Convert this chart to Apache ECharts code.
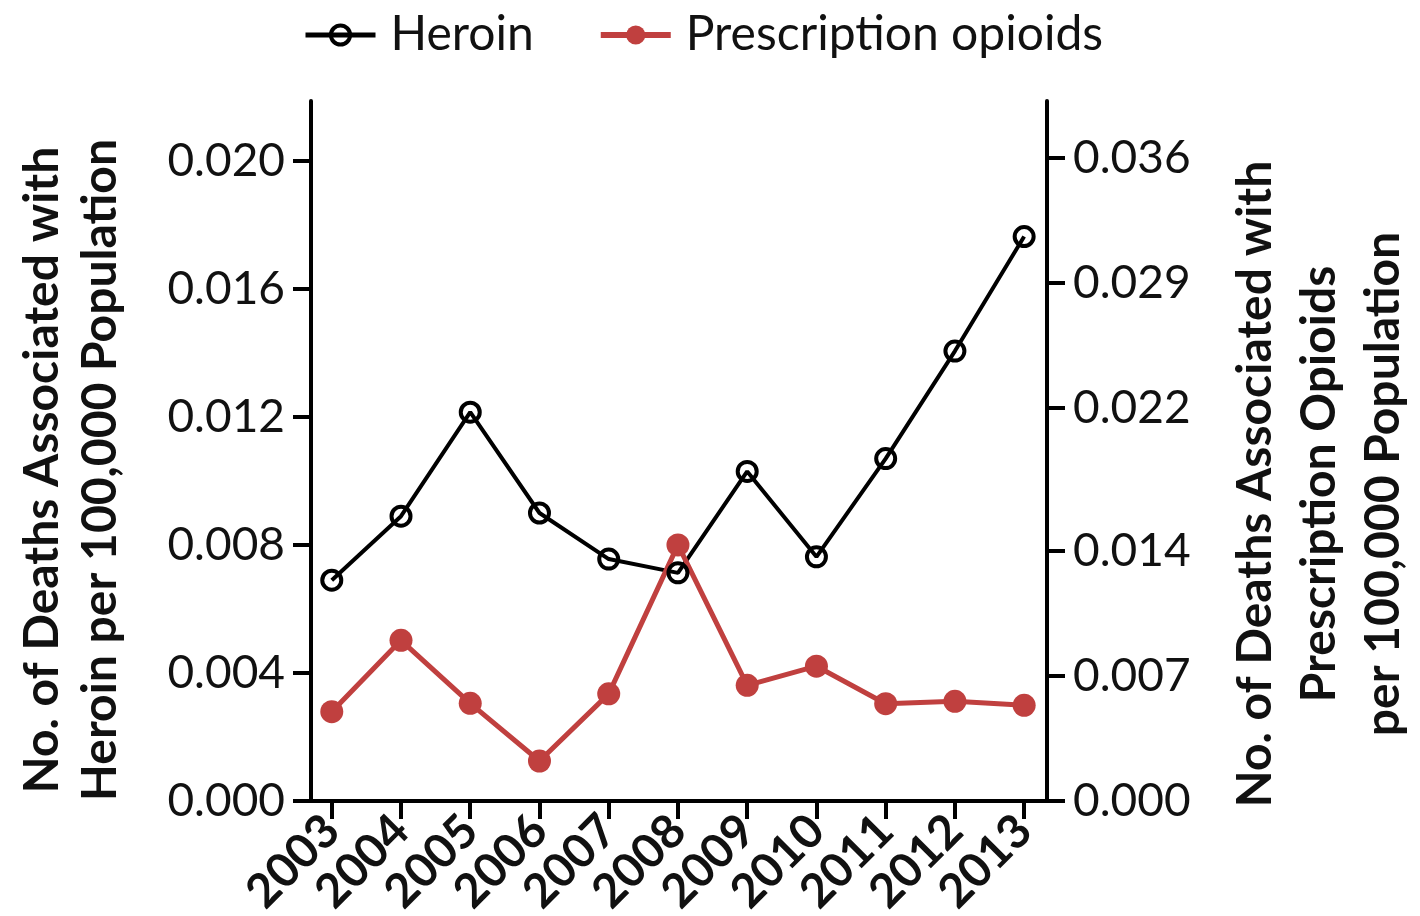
<!DOCTYPE html>
<html>
<head>
<meta charset="utf-8">
<script src="https://cdn.jsdelivr.net/npm/echarts@6/dist/echarts.min.js"></script>
<style>
  html, body { margin: 0; padding: 0; background: #fff; }
  #chart { width: 1420px; height: 916px; }
</style>
</head>
<body>
<div id="chart"></div>
<script>
// years on the x axis
const years = [2003, 2004, 2005, 2006, 2007, 2008, 2009, 2010, 2011, 2012, 2013];
// deaths per 100,000
const heroin = [0.0069, 0.0089, 0.01215, 0.0090, 0.00756, 0.00713, 0.0103, 0.00763, 0.0107, 0.01406, 0.01764];
const opioids = [0.0050, 0.0090, 0.00547, 0.00224, 0.0060, 0.01434, 0.00648, 0.00755, 0.00545, 0.00558, 0.00536];
// tick labels
const leftTicks = [0, 0.004, 0.008, 0.012, 0.016, 0.020];
const rightTicks = [0, 0.007, 0.014, 0.022, 0.029, 0.036]; // unevenly rounded in the original

const FONT = 'Lato';
const INK = '#111';
const RED = '#c0403f';

const chart = echarts.init(document.getElementById('chart'));

const axisLine = { show: true, lineStyle: { color: '#000', width: 4 } };
const tick = vals => ({ show: true, customValues: vals, length: 18, lineStyle: { color: '#000', width: 4 } });
const yLabel = vals => ({
  customValues: vals, margin: 26,
  fontFamily: FONT, fontSize: 46, color: INK,
  formatter: v => v.toFixed(3)
});

chart.setOption({
  animation: false,
  grid: { left: 311, right: 373, top: 101, bottom: 115, outerBoundsMode: 'none' },
  legend: {
    left: 298, top: 6,
    itemWidth: 70, itemHeight: 24, itemGap: 64,
    textStyle: { fontFamily: FONT, fontSize: 48, color: INK, padding: [0, 0, 0, 10] },
    data: [
      { name: 'Heroin', lineStyle: { width: 5 }, itemStyle: { borderWidth: 4 } },
      { name: 'Prescription opioids', lineStyle: { width: 6 } }
    ]
  },
  xAxis: {
    type: 'value',
    min: 2002.7, max: 2013.33,
    axisLine: axisLine,
    axisTick: tick(years),
    splitLine: { show: false },
    axisLabel: {
      customValues: years,
      rotate: 45, margin: 22,
      fontFamily: FONT, fontWeight: 'bold', fontSize: 47, color: INK,
      formatter: v => String(Math.round(v))
    }
  },
  yAxis: [
    {
      type: 'value', position: 'left',
      min: 0, max: 0.021875,
      axisLine: axisLine, axisTick: tick(leftTicks),
      splitLine: { show: false },
      axisLabel: yLabel(leftTicks)
    },
    {
      type: 'value', position: 'right',
      min: 0, max: 0.0392,
      axisLine: axisLine, axisTick: tick(rightTicks),
      splitLine: { show: false },
      axisLabel: yLabel(rightTicks)
    }
  ],
  graphic: [
    {
      type: 'text', x: 72, y: 470, rotation: Math.PI / 2,
      style: {
        text: 'No. of Deaths Associated with\nHeroin per 100,000 Population',
        font: 'bold 48px ' + FONT, fill: INK,
        align: 'center', verticalAlign: 'middle', lineHeight: 58
      }
    },
    {
      type: 'text', x: 1320, y: 484, rotation: Math.PI / 2,
      style: {
        text: 'No. of Deaths Associated with\nPrescription Opioids\nper 100,000 Population',
        font: 'bold 48px ' + FONT, fill: INK,
        align: 'center', verticalAlign: 'middle', lineHeight: 64
      }
    }
  ],
  series: [
    {
      name: 'Heroin', type: 'line', yAxisIndex: 0,
      data: years.map((y, i) => [y, heroin[i]]),
      symbol: 'circle', symbolSize: 19,
      lineStyle: { color: '#000', width: 4 },
      itemStyle: { color: 'rgba(255,255,255,0)', borderColor: '#000', borderWidth: 4 }
    },
    {
      name: 'Prescription opioids', type: 'line', yAxisIndex: 1,
      data: years.map((y, i) => [y, opioids[i]]),
      symbol: 'circle', symbolSize: 23,
      lineStyle: { color: RED, width: 5 },
      itemStyle: { color: RED }
    }
  ]
});
</script>
</body>
</html>
